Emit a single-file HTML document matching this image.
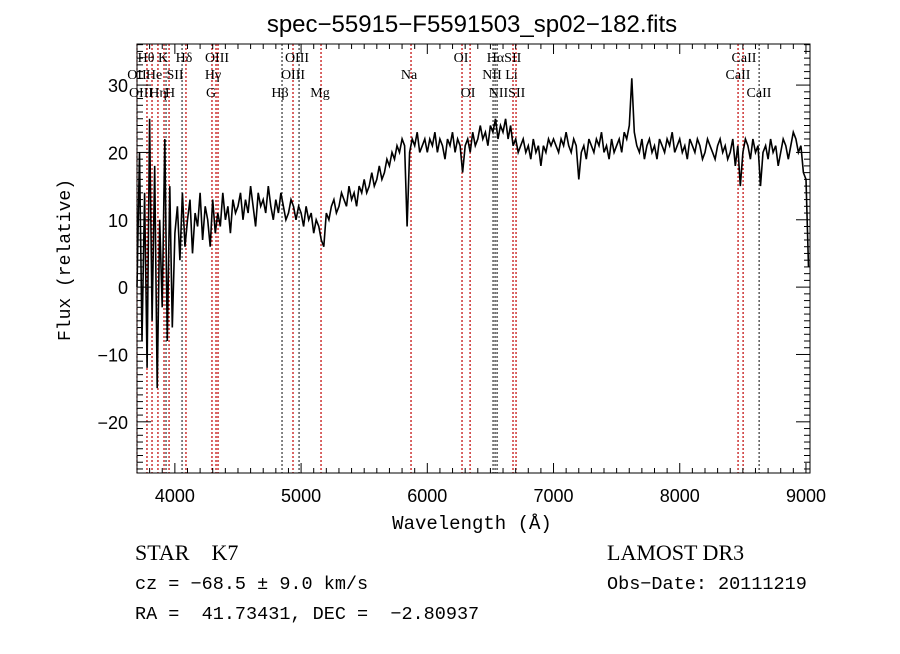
<!DOCTYPE html>
<html><head><meta charset="utf-8"><style>
body{margin:0;background:#fff;width:900px;height:649px;overflow:hidden}
svg text{font-family:"Liberation Serif",serif;white-space:pre}
</style></head><body>
<svg id="c" width="900" height="649" xmlns="http://www.w3.org/2000/svg" xml:space="preserve">
<text x="472" y="32" text-anchor="middle" font-size="24" style="font-family:'Liberation Sans',sans-serif">spec−55915−F5591503_sp02−182.fits</text>
<text x="472" y="529" text-anchor="middle" font-size="19" style="font-family:'Liberation Mono',monospace">Wavelength (Å)</text>
<text transform="translate(70,260) rotate(-90)" text-anchor="middle" font-size="18" style="font-family:'Liberation Mono',monospace">Flux (relative)</text>
<text x="135" y="560" font-size="22">STAR    K7</text>
<text x="607" y="560" font-size="22">LAMOST DR3</text>
<text x="135" y="589" font-size="18.5" style="font-family:'Liberation Mono',monospace">cz = −68.5 ± 9.0 km/s</text>
<text x="607" y="589" font-size="18.5" style="font-family:'Liberation Mono',monospace">Obs−Date: 20111219</text>
<text x="135" y="619" font-size="18.5" style="font-family:'Liberation Mono',monospace">RA =  41.73431, DEC =  −2.80937</text>
</svg>
<script>
const xTicks=[4000,5000,6000,7000,8000,9000];
const yTicks=[-20,-10,0,10,20,30];
const wStart=3700, wStep=20;
const flux=[0,20,-8,14,-12,25,-5,18,-15,10,-3,22,-8,15,-6,
8,12,4,14,6,10,13,5,11,9,14,7,12,10,6,13,8,11,9,14,10,12,8,13,11,
12,14,10,13,11,15,12,9,14,12,13,11,15,12,10,13,11,14,12,10,11,13,12,10,12,
11,9,12,10,11,8,10,9,7,6,11,10,12,13,11,12,14,13,12,15,13,14,12,15,14,
16,14,15,17,15,16,18,16,17,19,18,20,19,21,20,22,21,9,20,22,21,23,20,21,22,
20,22,21,23,20,22,21,19,22,21,23,20,22,21,17,21,22,20,23,21,22,24,22,23,21,
24,23,25,22,24,23,25,22,24,21,22,20,21,22,20,21,19,22,20,21,18,21,20,22,21,
22,21,20,22,21,23,21,20,22,21,16,20,21,19,22,21,20,22,21,23,20,21,19,22,20,
21,22,20,23,22,24,31,23,21,20,22,19,21,22,20,21,19,22,21,20,22,21,23,20,21,
22,20,21,19,22,21,20,22,21,19,20,22,21,20,19,21,22,20,21,19,20,22,18,21,15,
20,22,21,19,22,20,21,15,20,21,19,22,20,21,18,20,22,21,19,21,23,22,20,21,17,
16,3];
const lineW=[3700,3779,3819,3866,3914,3930,3954,4057,4088,4294,4326,4342,4849,4936,4984,5158,5871,6275,6339,6521,6537,6553,6679,6703,8462,8502,8629];
const lineRed=[1,1,1,1,1,0,1,0,1,1,1,1,0,1,0,1,1,1,1,0,0,0,1,1,1,1,0];
const labels=[["Hθ",146,1],["K",163,1],["Hδ",184,1],["OIII",217,1],["OIII",297,1],["OI",461,1],["HαSII",504,1],["CaII",744,1],
["OII",137,2],["He",154,2],["SII",175,2],["Hγ",213,2],["OIII",293,2],["Na",409,2],["NII Li",500,2],["CaII",738,2],
["OIII",141,3],["Hη",158,3],["H",170,3],["G",211,3],["Hβ",280,3],["Mg",320,3],["OI",468,3],["NIISII",507,3],["CaII",759,3]];
const L=137,R=810,T=44,B=473,X0=3700,X1=9032,Y0=-27.6,Y1=36.1;
const sx=w=>L+(w-X0)/(X1-X0)*(R-L), sy=v=>B-(v-Y0)/(Y1-Y0)*(B-T);
const svg=document.getElementById('c'),NS='http://www.w3.org/2000/svg';
function mk(t,a){const e=document.createElementNS(NS,t);for(const k in a)e.setAttribute(k,a[k]);svg.appendChild(e);return e;}
lineW.forEach((w,i)=>{const e=mk('line',{x1:sx(w),x2:sx(w),y1:T,y2:B,stroke:lineRed[i]?'#c00000':'#333','stroke-width':1.2,'stroke-dasharray':'2,2'});

});
labels.forEach(l=>{const e=mk('text',{x:l[1],y:[0,62,79,97][l[2]],'text-anchor':'middle','font-size':14});e.textContent=l[0];

});
let d='';flux.forEach((v,i)=>{d+=(i?'L':'M')+sx(wStart+i*wStep).toFixed(1)+','+sy(v).toFixed(1);});
const p=mk('path',{d:d,fill:'none',stroke:'#000','stroke-width':1.6});


const f=mk('rect',{x:L,y:T,width:R-L,height:B-T,fill:'none',stroke:'#000','stroke-width':1});


for(let w=3700;w<=9000;w+=100){const maj=w%1000===0,len=maj?10:5,x=sx(w);
mk('line',{x1:x,x2:x,y1:B,y2:B-len,stroke:'#000'});mk('line',{x1:x,x2:x,y1:T,y2:T+len,stroke:'#000'});}
for(let v=-27;v<=36;v+=1){const maj=v%10===0,len=maj?14:6,y=sy(v);
mk('line',{x1:L,x2:L+len,y1:y,y2:y,stroke:'#000'});mk('line',{x1:R,x2:R-len,y1:y,y2:y,stroke:'#000'});}
xTicks.forEach(t=>{const e=mk('text',{x:sx(t),y:502,'text-anchor':'middle','font-size':18,style:"font-family:'Liberation Sans',sans-serif"});e.textContent=t;

});
yTicks.forEach(t=>{const e=mk('text',{x:128,y:sy(t)+7,'text-anchor':'end','font-size':18,style:"font-family:'Liberation Sans',sans-serif"});e.textContent=(t<0?'−'+(-t):t);

});
</script>
</body></html>
